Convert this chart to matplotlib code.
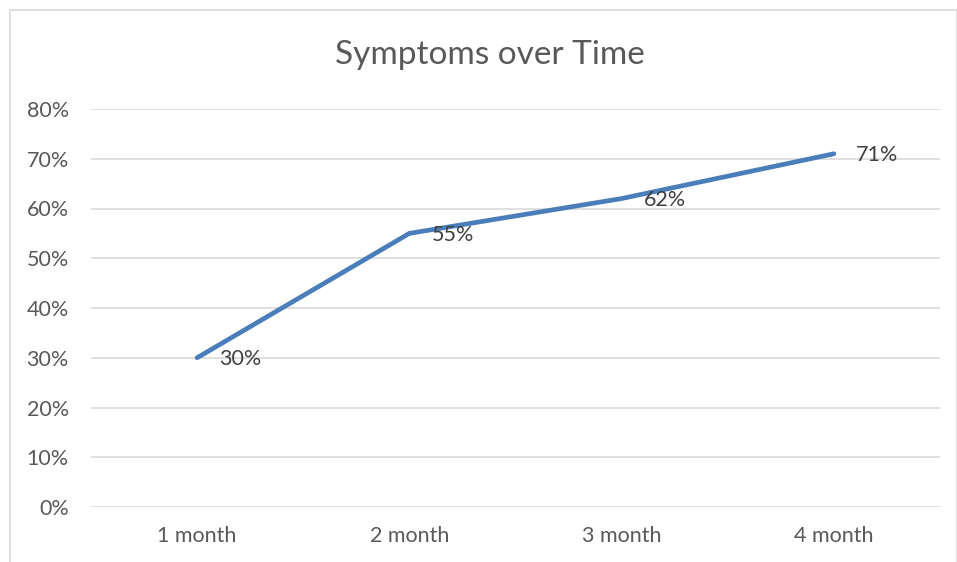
import matplotlib
matplotlib.use('Agg')
from matplotlib import pyplot as plt
from matplotlib.patches import Rectangle
from matplotlib.ticker import FuncFormatter

months = ['1 month', '2 month', '3 month', '4 month']
symptoms = [0.30, 0.55, 0.62, 0.71]
yticks = [0.0, 0.1, 0.2, 0.3, 0.4, 0.5, 0.6, 0.7, 0.8]

plt.rcParams['font.family'] = ['Lato', 'DejaVu Sans']
text_col = '#595959'

W, H = 957, 562
fig = plt.figure(figsize=(W / 100, H / 100), dpi=100)

# chart area outline
fig.patches.append(Rectangle((10 / W, -0.1), (W - 10) / W, (H - 10) / H + 0.1,
                             transform=fig.transFigure, fill=False,
                             edgecolor='#D9D9D9', linewidth=1.2))

ax = fig.add_axes([91 / W, 1 - 507 / H, (940 - 91) / W, (507 - 109) / H])
x = list(range(1, len(months) + 1))

ax.plot(x, symptoms, color='#4A7EBB', linewidth=3.4, solid_capstyle='round',
        solid_joinstyle='round', zorder=3)

for xi, v in zip(x, symptoms):
    ax.annotate('{:.0f}%'.format(v * 100), (xi, v), xytext=(16, -1),
                textcoords='offset points', ha='left', va='center',
                fontsize=15.5, color='#404040')

ax.set_xlim(0.5, 4.5)
ax.set_ylim(0, 0.8)
ax.set_yticks(yticks)
ax.yaxis.set_major_formatter(FuncFormatter(lambda v, p: '{:.0f}%'.format(v * 100)))
ax.set_xticks(x)
ax.set_xticklabels(months)
ax.grid(axis='y', color='#D9D9D9', linewidth=1.2)
ax.set_axisbelow(True)
for s in ax.spines.values():
    s.set_visible(False)
ax.tick_params(length=0, labelsize=15.5, colors=text_col)
ax.tick_params(axis='y', pad=16)
ax.tick_params(axis='x', pad=14)

fig.text(490 / W, 1 - 55 / H, 'Symptoms over Time', ha='center', va='center',
         fontsize=24, color=text_col)

plt.savefig('out.png', dpi=100)
